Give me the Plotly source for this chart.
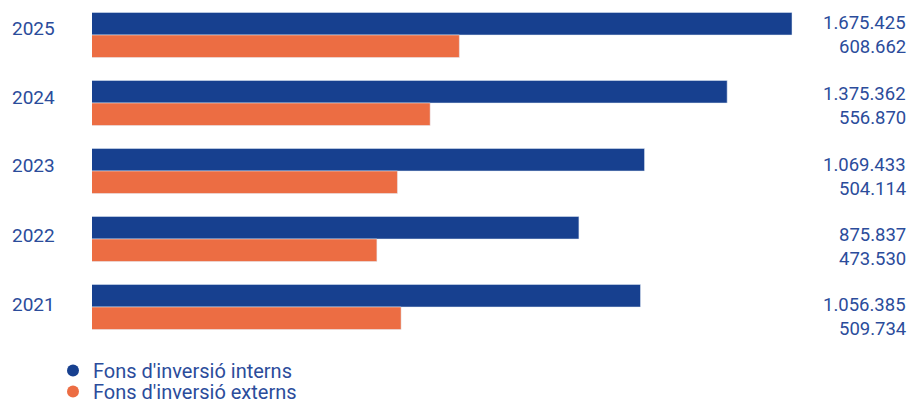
import plotly.graph_objects as go

years = ["2025", "2024", "2023", "2022", "2021"]
interns = [1675425, 1375362, 1069433, 875837, 1056385]
externs = [608662, 556870, 504114, 473530, 509734]
series_names = ["Fons d'inversió interns", "Fons d'inversió externs"]

BLUE = "#17408f"
ORANGE = "#ec6d43"
TEXT = "#2b4c9b"
FONT = "Roboto"

W, H = 911, 400

def fmt(v):
    return f"{v:,}".replace(",", ".")

fig = go.Figure()
fig.add_trace(go.Bar(y=years, x=interns, orientation="h", marker_color=BLUE,
                     name=series_names[0], showlegend=False))
fig.add_trace(go.Bar(y=years, x=externs, orientation="h", marker_color=ORANGE,
                     name=series_names[1], showlegend=False))
# legend entries with circle markers (on hidden helper axes), one legend each
for k, (nm, col) in enumerate(zip(series_names, [BLUE, ORANGE])):
    fig.add_trace(go.Scatter(x=[0], y=[0], mode="markers", name=nm, xaxis="x2", yaxis="y2",
                             legend="legend" if k == 0 else "legend2",
                             marker=dict(color=col, size=12, symbol="circle"),
                             hoverinfo="skip"))

# styling offsets (pixels) for labels
year_shift = [7, 6, 6, 4, 3]
pair_mid = [0.5, -3, -6, -7.5, -10]

ann = []
for i, y in enumerate(years):
    ann.append(dict(xref="paper", yref="y", x=0, y=i, xanchor="right", yanchor="middle",
                    xshift=-35, yshift=year_shift[i], text=y, showarrow=False,
                    font=dict(family=FONT, size=19, color=TEXT)))
    ann.append(dict(xref="paper", yref="y", x=1, y=i, xanchor="right", yanchor="middle",
                    xshift=108, yshift=pair_mid[i] + 12, text=fmt(interns[i]), showarrow=False,
                    font=dict(family=FONT, size=18.5, color=TEXT)))
    ann.append(dict(xref="paper", yref="y", x=1, y=i, xanchor="right", yanchor="middle",
                    xshift=108, yshift=pair_mid[i] - 12, text=fmt(externs[i]), showarrow=False,
                    font=dict(family=FONT, size=18.5, color=TEXT)))

legend_style = dict(orientation="v", xref="container", yref="container",
                    xanchor="left", yanchor="top", itemwidth=30,
                    font=dict(family=FONT, size=20, color=TEXT),
                    bgcolor="rgba(0,0,0,0)", borderwidth=0)

fig.update_layout(
    width=W, height=H,
    margin=dict(l=92, r=111, t=1, b=59, autoexpand=False),
    paper_bgcolor="white", plot_bgcolor="white",
    barmode="group", bargap=0.338, bargroupgap=0,
    xaxis=dict(type="log", range=[5.2987, 6.2347], showgrid=False, zeroline=False,
               showticklabels=False, showline=False, ticks=""),
    yaxis=dict(type="category", categoryorder="array", categoryarray=years,
               range=[4.5, -0.5], showgrid=False, showticklabels=False,
               showline=False, ticks="", zeroline=False),
    xaxis2=dict(range=[10, 11], visible=False, overlaying="x"),
    yaxis2=dict(range=[10, 11], visible=False, overlaying="y"),
    legend=dict(x=53 / W, y=1 - 351 / H, **legend_style),
    legend2=dict(x=53 / W, y=1 - 372 / H, **legend_style),
    annotations=ann,
    font=dict(family=FONT, color=TEXT),
)

fig.write_html("out.html", config={"displayModeBar": False},
               post_script="document.body.style.margin='0';document.body.style.overflow='hidden';")
